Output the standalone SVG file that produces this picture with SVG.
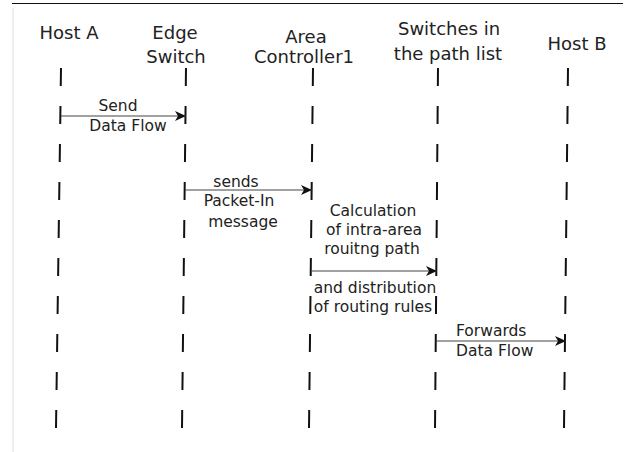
<svg xmlns="http://www.w3.org/2000/svg" width="630" height="452" viewBox="0 0 630 452">
<style>
.hd{font-family:"DejaVu Sans","Verdana",sans-serif;font-size:18px;fill:#222;text-anchor:middle}
.lb{font-family:"DejaVu Sans","Verdana",sans-serif;font-size:15.5px;fill:#222;text-anchor:middle}
.ls{font-family:"DejaVu Sans","Verdana",sans-serif;font-size:15.5px;fill:#222;text-anchor:start}
.lane{stroke:#111;stroke-width:2;stroke-dasharray:18 20;fill:none}
.msg{stroke:#444;stroke-width:1.2;fill:none;marker-end:url(#ah)}
</style>
<defs>
<marker id="ah" markerUnits="userSpaceOnUse" markerWidth="12" markerHeight="10" refX="11" refY="5" orient="auto">
<path d="M0,0 L11,5 L0,10 L3,5 Z" fill="#111"/>
</marker>
</defs>
<rect width="630" height="452" fill="#fff"/>
<line x1="12" y1="3.5" x2="623" y2="3.5" stroke="#111" stroke-width="1"/>
<line x1="13" y1="8" x2="13" y2="452" stroke="#ddd" stroke-width="1"/>

<g id="hostA">
<text class="hd" x="69" y="39">Host A</text>
<line class="lane" x1="61" y1="68" x2="56" y2="428"/>
</g>
<g id="edgeSwitch">
<text class="hd" x="175" y="39">Edge</text>
<text class="hd" x="176" y="63">Switch</text>
<line class="lane" x1="186" y1="68" x2="182" y2="428"/>
</g>
<g id="areaController">
<text class="hd" x="306" y="43">Area</text>
<text class="hd" x="304" y="63">Controller1</text>
<line class="lane" x1="313" y1="68" x2="309" y2="428"/>
</g>
<g id="switchesPath">
<text class="hd" x="449" y="35">Switches in</text>
<text class="hd" x="448" y="60">the path list</text>
<line class="lane" x1="438" y1="68" x2="435" y2="430"/>
</g>
<g id="hostB">
<text class="hd" x="577" y="50">Host B</text>
<line class="lane" x1="568" y1="68" x2="564" y2="428"/>
</g>

<g id="connectors">
<line class="msg" x1="61" y1="116" x2="186" y2="116"/>
<text class="lb" x="118" y="111">Send</text>
<text class="lb" x="128" y="131">Data Flow</text>

<line class="msg" x1="185" y1="190" x2="312" y2="190"/>
<text class="lb" x="236" y="187">sends</text>
<text class="lb" x="239" y="206">Packet-In</text>
<text class="lb" x="243" y="227">message</text>

<line class="msg" x1="311" y1="271" x2="437" y2="271"/>
<text class="lb" x="373" y="216">Calculation</text>
<text class="lb" x="374" y="235">of intra-area</text>
<text class="lb" x="372" y="254">rouitng path</text>
<text class="lb" x="375" y="293">and distribution</text>
<text class="lb" x="373" y="312">of routing rules</text>

<line class="msg" x1="436" y1="341" x2="566" y2="341"/>
<text class="ls" x="456" y="336">Forwards</text>
<text class="ls" x="456" y="356">Data Flow</text>
</g>
</svg>
